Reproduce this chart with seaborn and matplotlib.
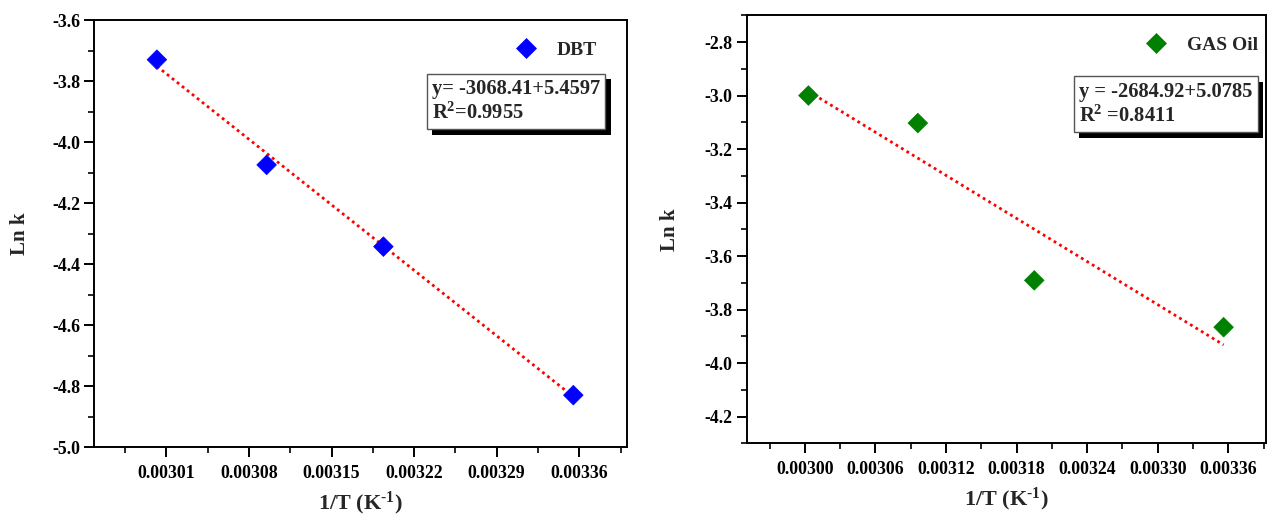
import numpy as np
import pandas as pd
import matplotlib
matplotlib.use("Agg")
import matplotlib.pyplot as plt
import matplotlib.patheffects as pe
from matplotlib.ticker import AutoMinorLocator, FixedLocator
import seaborn as sns

# Arrhenius data: ln k against 1/T
inv_t_dbt = [0.003002, 0.003095, 0.003194, 0.003355]
lnk_dbt = [-3.73, -4.075, -4.343, -4.83]
slope_dbt, icpt_dbt = -3068.41, 5.4597
r2_dbt = "0.9955"

inv_t_gas = [0.003003, 0.003096, 0.003195, 0.003356]
lnk_gas = [-3.0, -3.103, -3.691, -3.866]
slope_gas, icpt_gas = -2684.92, 5.0785
r2_gas = "0.8411"

xticks_dbt = [0.00301, 0.00308, 0.00315, 0.00322, 0.00329, 0.00336]
xticklabels_dbt = ["0.00301", "0.00308", "0.00315", "0.00322", "0.00329", "0.00336"]
yticks_dbt = [-5.0, -4.8, -4.6, -4.4, -4.2, -4.0, -3.8, -3.6]

xticks_gas = [0.00300, 0.00306, 0.00312, 0.00318, 0.00324, 0.00330, 0.00336]
xticklabels_gas = ["0.00300", "0.00306", "0.00312", "0.00318", "0.00324", "0.00330", "0.00336"]
yticks_gas = [-4.2, -4.0, -3.8, -3.6, -3.4, -3.2, -3.0, -2.8]

sns.set_theme(style="ticks")
plt.rcParams["font.family"] = ["Liberation Serif", "DejaVu Serif"]
plt.rcParams["font.weight"] = "bold"
plt.rcParams["mathtext.fontset"] = "custom"
plt.rcParams["mathtext.rm"] = "Liberation Serif:bold"
plt.rcParams["mathtext.bf"] = "Liberation Serif:bold"
plt.rcParams["mathtext.it"] = "Liberation Serif:bold"

fig = plt.figure(figsize=(12.69, 5.16), dpi=100)
ax1 = fig.add_axes([0.0741, 0.1337, 0.4200, 0.8275])
ax2 = fig.add_axes([0.5884, 0.1409, 0.4092, 0.8295])


def draw_panel(ax, xs, ys, slope, icpt, name, color, eq_text,
               xlim, ylim, xticks, xticklabels, yticks,
               leg_anchor, eq_pos, ylab_x):
    df = pd.DataFrame({"x": xs, "y": ys, "s": name})
    fit = pd.DataFrame({"x": [min(xs), max(xs)]})
    fit["y"] = slope * fit["x"] + icpt
    sns.lineplot(data=fit, x="x", y="y", ax=ax, color="red",
                 linestyle=(0, (1, 1.3)), linewidth=2.0, legend=False)
    sns.scatterplot(data=df, x="x", y="y", hue="s", palette=[color],
                    marker="D", s=100, edgecolor=color, linewidth=0.5,
                    ax=ax, zorder=3)
    ax.set_xlim(*xlim)
    ax.set_ylim(*ylim)
    ax.xaxis.set_major_locator(FixedLocator(xticks))
    ax.set_xticklabels(xticklabels)
    ax.yaxis.set_major_locator(FixedLocator(yticks))
    ax.set_yticklabels([f"{v:.1f}" for v in yticks])
    ax.xaxis.set_minor_locator(AutoMinorLocator(2))
    ax.yaxis.set_minor_locator(AutoMinorLocator(2))
    ax.tick_params(axis="both", which="major", direction="out", length=7,
                   width=1.4, labelsize=12.8, colors="black")
    ax.tick_params(axis="both", which="minor", direction="out", length=4,
                   width=1.4)
    ax.tick_params(axis="x", pad=6)
    ax.tick_params(axis="y", pad=3)
    for lbl in ax.get_xticklabels() + ax.get_yticklabels():
        lbl.set_fontweight("bold")
    for sp in ax.spines.values():
        sp.set_visible(True)
        sp.set_linewidth(1.4)
        sp.set_color("black")
    ax.set_xlabel("1/T (K$^{\u2010\\mathbf{1}}$)", fontsize=16, fontweight="bold")
    ax.set_ylabel("Ln k", fontsize=15, fontweight="bold")
    ax.xaxis.set_label_coords(0.5, -0.1)
    ax.yaxis.set_label_coords(ylab_x, 0.5)

    handles, labels = ax.get_legend_handles_labels()
    ax.legend(handles=handles, labels=labels, loc="center right",
              bbox_to_anchor=leg_anchor, frameon=False, fontsize=14,
              handletextpad=0.6, markerscale=1.0, borderaxespad=0)

    t = ax.text(eq_pos[0], eq_pos[1], eq_text, transform=ax.transAxes,
                ha="left", va="top", fontsize=14.8, fontweight="bold",
                linespacing=1.25,
                bbox=dict(boxstyle="square,pad=0.25", facecolor="white",
                          edgecolor="#555555", linewidth=1.0))
    t.get_bbox_patch().set_path_effects([
        pe.SimplePatchShadow(offset=(4, -4), shadow_rgbFace="black", alpha=1.0),
        pe.Normal(),
    ])


draw_panel(ax1, inv_t_dbt, lnk_dbt, slope_dbt, icpt_dbt, "DBT", "#0000ff",
           "y= -3068.41+5.4597\nR$^{\\mathbf{2}}$=" + r2_dbt,
           (0.0029487, 0.0034005), (-5.0, -3.6),
           xticks_dbt, xticklabels_dbt, yticks_dbt,
           (0.958, 0.93), (0.634, 0.862), -0.12)

draw_panel(ax2, inv_t_gas, lnk_gas, slope_gas, icpt_gas, "GAS Oil", "#008000",
           "y = -2684.92+5.0785\nR$^{\\mathbf{2}}$ =" + r2_gas,
           (0.0029505, 0.003392), (-4.3, -2.7),
           xticks_gas, xticklabels_gas, yticks_gas,
           (1.0, 0.93), (0.64, 0.845), -0.128)

fig.savefig("out.png", dpi=100, facecolor="white")
